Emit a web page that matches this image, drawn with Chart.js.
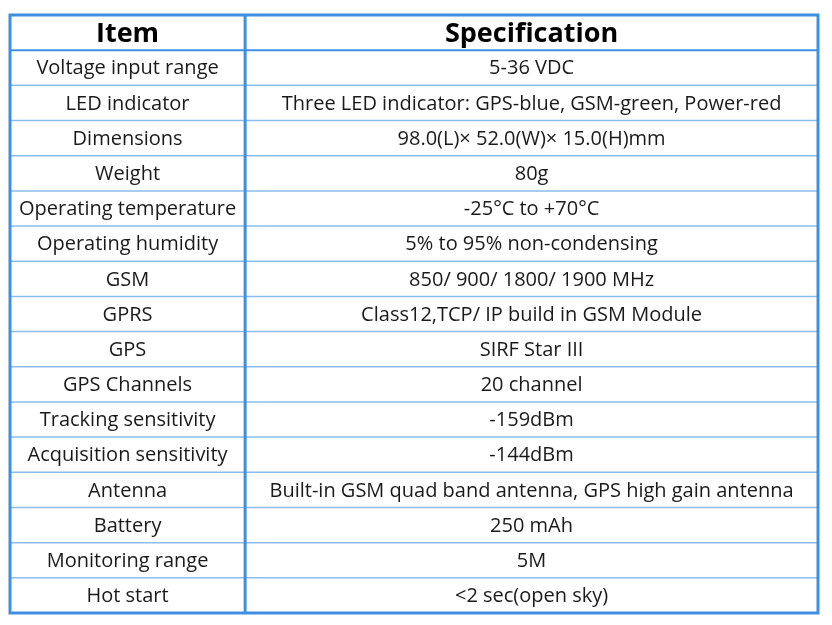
<!DOCTYPE html>
<html><head><meta charset="utf-8">
<script src="https://cdn.jsdelivr.net/npm/chart.js@4"></script>
<style>html,body{margin:0;padding:0;background:#fff}#c{display:block}</style>
</head><body>
<div style="width:832px;height:625px"><canvas id="c"></canvas></div>
<script>
const headers = ["Item", "Specification"];
const items = ["Voltage input range","LED indicator","Dimensions","Weight","Operating temperature","Operating humidity","GSM","GPRS","GPS","GPS Channels","Tracking sensitivity","Acquisition sensitivity","Antenna","Battery","Monitoring range","Hot start"];
const specs = ["5-36 VDC","Three LED indicator: GPS-blue, GSM-green, Power-red","98.0(L)\u00d7 52.0(W)\u00d7 15.0(H)mm","80g","-25\u00b0C to +70\u00b0C","5% to 95% non-condensing","850/ 900/ 1800/ 1900 MHz","Class12,TCP/ IP build in GSM Module","SIRF Star III","20 channel","-159dBm","-144dBm","Built-in GSM quad band antenna, GPS high gain antenna","250 mAh","5M","<2 sec(open sky)"];
const colSplit = 0.291;
const nRows = items.length + 1;

const tablePlugin = {
  id: 'table',
  afterDraw(chart) {
    const ctx = chart.ctx, x = chart.scales.x, y = chart.scales.y;
    const L = x.getPixelForValue(0), R = x.getPixelForValue(1), M = x.getPixelForValue(colSplit);
    const rowY = i => y.getPixelForValue(i);
    ctx.save();
    ctx.strokeStyle = '#8cbcec'; ctx.lineWidth = 1.5;
    for (let i = 2; i < nRows; i++) {
      ctx.beginPath(); ctx.moveTo(L, rowY(i)); ctx.lineTo(R, rowY(i)); ctx.stroke();
    }
    ctx.strokeStyle = '#3f8fe0'; ctx.lineWidth = 2;
    ctx.beginPath(); ctx.moveTo(L, rowY(1)); ctx.lineTo(R, rowY(1)); ctx.stroke();
    ctx.lineWidth = 3;
    ctx.beginPath(); ctx.moveTo(M, rowY(0)); ctx.lineTo(M, rowY(nRows)); ctx.stroke();
    ctx.strokeRect(L, rowY(0), R - L, rowY(nRows) - rowY(0));
    ctx.textAlign = 'center'; ctx.textBaseline = 'middle';
    ctx.fillStyle = '#000';
    ctx.font = 'bold 27px "Open Sans", sans-serif';
    const hy = (rowY(0) + rowY(1)) / 2 + 2;
    ctx.fillText(headers[0], (L + M) / 2, hy);
    ctx.fillText(headers[1], (M + R) / 2, hy);
    ctx.fillStyle = '#1a1a1a';
    ctx.font = '20px "Open Sans", sans-serif';
    for (let i = 0; i < items.length; i++) {
      const cy = (rowY(i + 1) + rowY(i + 2)) / 2 + 1;
      ctx.fillText(items[i], (L + M) / 2, cy);
      ctx.fillText(specs[i], (M + R) / 2, cy);
    }
    ctx.restore();
  }
};

new Chart(document.getElementById('c'), {
  type: 'scatter',
  data: { datasets: [{ data: [] }] },
  options: {
    responsive: true, maintainAspectRatio: false, animation: false,
    layout: { padding: { left: 10, right: 14, top: 15, bottom: 12 } },
    plugins: { legend: { display: false }, tooltip: { enabled: false } },
    scales: {
      x: { type: 'linear', min: 0, max: 1, display: false },
      y: { type: 'linear', min: 0, max: nRows, reverse: true, display: false }
    }
  },
  plugins: [tablePlugin]
});
</script>
</body></html>
